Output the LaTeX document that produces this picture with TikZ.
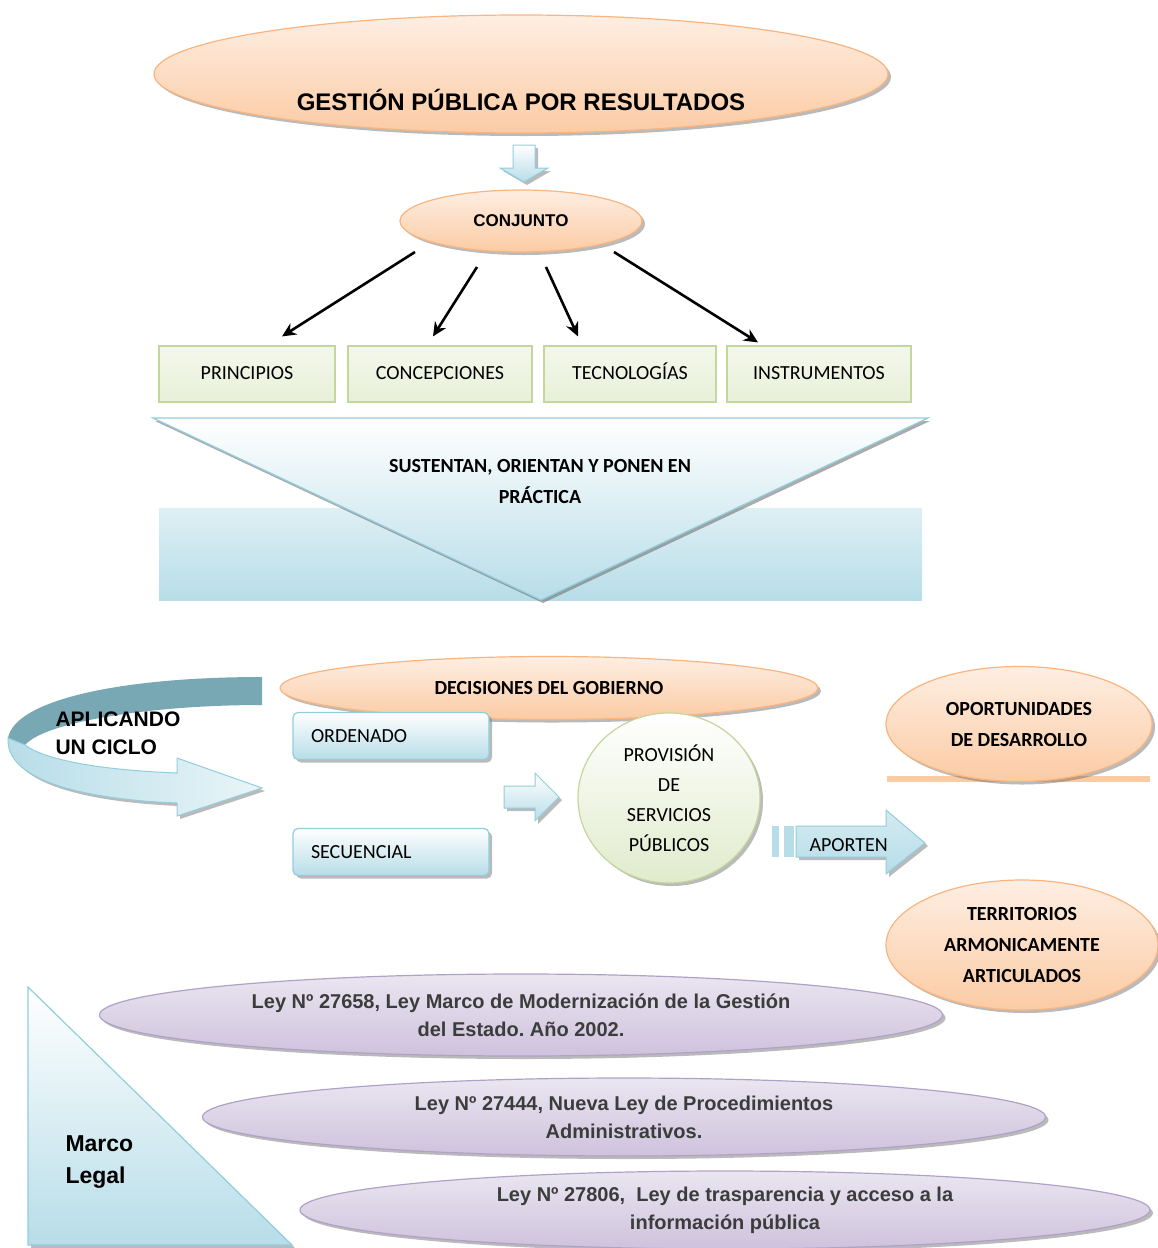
\documentclass[tikz,border=0pt]{standalone}
\usepackage{fontspec}
\setmainfont{Carlito}
\newfontfamily\arialf{Liberation Sans}
\usepackage{tikz}
\usetikzlibrary{arrows.meta,positioning,calc,shapes.geometric,shadows}
\frenchspacing
\definecolor{gporange}{RGB}{249,180,128}
\definecolor{gppeach}{RGB}{251,203,164}
\definecolor{gpcream}{RGB}{254,238,226}
\definecolor{gpblue}{RGB}{146,205,220}
\definecolor{gpsky}{RGB}{183,221,232}
\definecolor{gpteal}{RGB}{120,168,180}
\definecolor{gpgreen}{RGB}{195,214,155}
\definecolor{gpmint}{RGB}{232,240,216}
\definecolor{gplila}{RGB}{178,161,199}
\definecolor{gpmauve}{RGB}{206,194,220}
\definecolor{gplav}{RGB}{234,230,241}
\definecolor{gpgrey}{RGB}{60,60,60}
\tikzset{
  shd/.style={drop shadow={shadow xshift=3pt, shadow yshift=-3pt, opacity=0.45, fill=black!60}},
  oval/.style={ellipse, draw=gporange, line width=1.2pt, top color=gpcream, bottom color=gppeach, inner sep=0pt, shd},
  ley/.style={ellipse, draw=gplila, line width=1.2pt, top color=gplav, bottom color=gpmauve, inner sep=0pt, shd, text=gpgrey, align=center, font=\arialf\bfseries\fontsize{20}{28}\selectfont},
  greenbox/.style={draw=gpgreen, line width=1.2pt, top color=white!50!gpmint, bottom color=gpmint, inner sep=0pt, text height=13pt, text depth=3pt, font=\fontsize{20}{24}\selectfont},
  bluebox/.style={draw=gpblue, line width=1.2pt, rounded corners=5pt, top color=white, bottom color=gpsky, inner ysep=0pt, inner xsep=18pt, text width=160pt, align=left, shd, font=\fontsize{20}{24}\selectfont},
  blockarr/.style={draw=gpblue, line width=1pt, top color=white, bottom color=gpsky, shd},
  arr/.style={-{Stealth[length=14pt,width=13pt]}, line width=2.6pt, black},
  lbl/.style={align=center, font=\bfseries\fontsize{20}{31}\selectfont},
}

\begin{document}
\begin{tikzpicture}[x=1pt,y=-1pt]
  \useasboundingbox (0,0) rectangle (1157,1248);

  \node[oval, minimum width=734pt, minimum height=118pt] (gpr) at (521,74) {};
  \node[font=\arialf\bfseries\fontsize{24}{28}\selectfont] (gprt) at (521,100) {GESTIÓN PÚBLICA POR RESULTADOS};
  \draw[blockarr] (513,145) -- (535,145) -- (535,168) -- (548,168) -- (524,182) -- (500,168) -- (513,168) -- cycle;
  \node[oval, minimum width=242pt, minimum height=62pt, font=\arialf\bfseries\fontsize{17}{20}\selectfont] (conj) at (521,221) {CONJUNTO};

  \node[greenbox, minimum width=176pt, minimum height=56pt] (prin) at (247,374) {PRINCIPIOS};
  \node[greenbox, minimum width=184pt, minimum height=56pt] (conc) at (440,374) {CONCEPCIONES};
  \node[greenbox, minimum width=172pt, minimum height=56pt] (tec) at (630,374) {TECNOLOGÍAS};
  \node[greenbox, minimum width=184pt, minimum height=56pt] (ins) at (819,374) {INSTRUMENTOS};
  \draw[arr] ($(conj.center)+(-106,31)$) -- ($(prin.north)+(35,-9)$);
  \draw[arr] ($(conj.center)+(-44,46)$) -- ($(conc.north)+(-7,-9)$);
  \draw[arr] ($(conj.center)+(25,46)$) -- ($(tec.north)+(-52,-9)$);
  \draw[arr] ($(conj.center)+(93,31)$) -- ($(ins.north)+(-61,-3)$);

  \fill[top color=gpsky!45, bottom color=gpsky] (159,508) rectangle (922,600);
  \fill[black!55, opacity=.6] (155,421) -- (930,421) -- (543,603) -- cycle;
  \draw[gpblue, line width=1.2pt, top color=white, bottom color=gpsky] (153,418) -- (928,418) -- (541,600) -- cycle;
  \node[lbl] (sus) at (540,482) {SUSTENTAN, ORIENTAN Y PONEN EN\\PRÁCTICA};

  \fill[gpteal] (262,677) -- (262,705) .. controls (150,705) and (45,722) .. (25,745) -- (8,738) .. controls (15,700) and (120,677) .. (262,677) -- cycle;
  \draw[gpblue, line width=1pt, left color=gpsky, right color=gpsky!30, shd] (8,738) .. controls (5,785) and (100,800) .. (177,803) -- (177,816) -- (262,788) -- (177,758) -- (177,773) .. controls (100,770) and (45,760) .. (25,745) -- cycle;
  \node[anchor=west, align=left, font=\arialf\bfseries\fontsize{21}{28}\selectfont] (cic) at (52,733) {APLICANDO\\UN CICLO};

  \node[oval, minimum width=538pt, minimum height=63pt, font=\bfseries\fontsize{20}{24}\selectfont] (dec) at (549,688) {DECISIONES DEL GOBIERNO};
  \node[bluebox, minimum height=47pt] (ord) at (391,736) {ORDENADO};
  \node[bluebox, minimum height=47pt] (sec) at (391,852) {SECUENCIAL};
  \draw[blockarr] (504,786) -- (535,786) -- (535,773) -- (559,797) -- (535,821) -- (535,808) -- (504,808) -- cycle;
  \node[ellipse, draw=gpgreen, line width=1.2pt, top color=white, bottom color=gpmint!80!gpgreen, minimum width=182pt, minimum height=170pt, inner sep=0pt, align=center, font=\fontsize{20}{30}\selectfont, shd] (prov) at (669,798) {PROVISIÓN\\DE\\SERVICIOS\\PÚBLICOS};

  \fill[gpsky] (772,826) rectangle (779,857);
  \fill[gpsky] (784,826) rectangle (794,857);
  \draw[blockarr, top color=gpsky!60] (796,826) -- (886,826) -- (886,810) -- (925,843) -- (886,874) -- (886,857) -- (796,857) -- cycle;
  \node[anchor=west, font=\fontsize{20}{24}\selectfont] (apo) at (806,845) {APORTEN};

  \fill[gppeach] (887,776) rectangle (1150,782);
  \node[oval, lbl, minimum width=266pt, minimum height=115pt] (opo) at (1019,724) {OPORTUNIDADES\\DE DESARROLLO};
  \node[oval, lbl, minimum width=272pt, minimum height=130pt] (ter) at (1022,945) {TERRITORIOS\\ARMONICAMENTE\\ARTICULADOS};

  \draw[gpblue, line width=1.2pt, top color=white, bottom color=gpsky, shd] (28,987) -- (292,1245) -- (28,1245) -- cycle;
  \node[anchor=west, align=left, font=\arialf\bfseries\fontsize{23}{32}\selectfont] (mar) at (62,1162) {Marco\\Legal};

  \node[ley, minimum width=843pt, minimum height=82pt] (ley1) at (521,1015) {Ley Nº 27658, Ley Marco de Modernización de la Gestión\\del Estado. Año 2002.};
  \node[ley, minimum width=843pt, minimum height=78pt] (ley2) at (624,1117) {Ley Nº 27444, Nueva Ley de Procedimientos\\Administrativos.};
  \node[ley, minimum width=850pt, minimum height=78pt] (ley3) at (725,1210) {Ley Nº 27806,~ Ley de trasparencia y acceso a la\\información pública};
\end{tikzpicture}
\end{document}
